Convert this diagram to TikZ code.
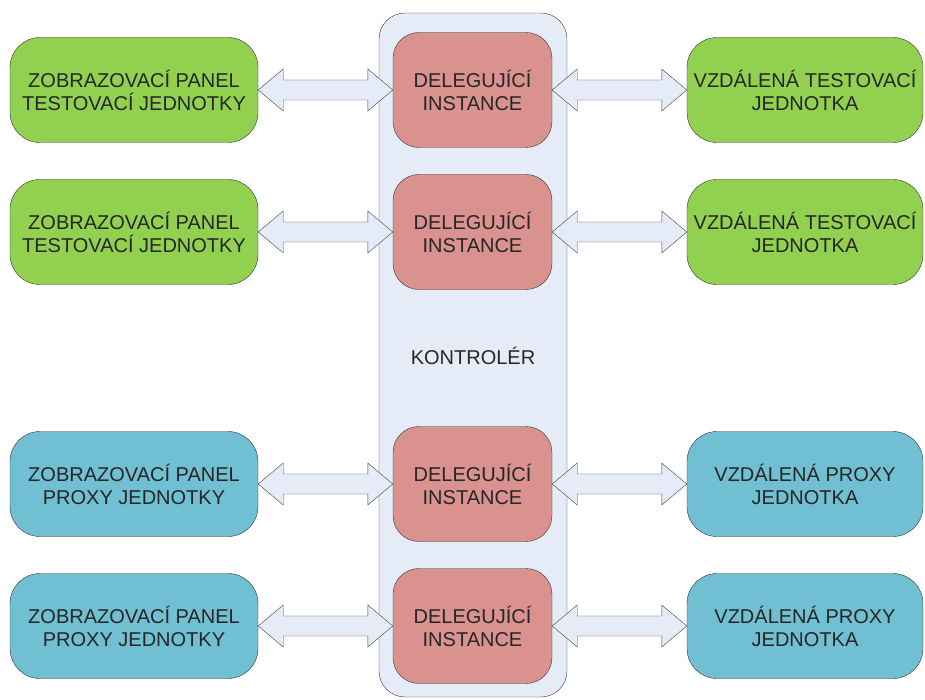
\documentclass[tikz,border=0pt]{standalone}
\usepackage{fontspec}
\setmainfont{Liberation Sans}
\usetikzlibrary{calc}
\definecolor{panelgreen}{HTML}{92D050}
\definecolor{panelblue}{HTML}{70BFD2}
\definecolor{delegred}{HTML}{D9928E}
\definecolor{ctrlfill}{HTML}{E6ECF7}
\definecolor{textgray}{HTML}{262626}
\tikzset{
  unitbox/.style={draw=black!80,rounded corners=30pt,minimum width=248pt,minimum height=105pt,
    align=center,text=textgray,font=\fontsize{20}{23}\selectfont},
  delegbox/.style={draw=black!80,fill=delegred,rounded corners=26pt,minimum width=159pt,minimum height=115pt,
    align=center,text=textgray,font=\fontsize{20}{23}\selectfont},
  pipe/.style={draw=black!75,fill=ctrlfill,line join=miter}
}
% double arrow between two nodes
\newcommand{\pipe}[2]{%
  \draw[pipe] (#1.east) -- ++(25,-21) -- ++(0,11) -- ($(#2.west)+(-25,-10)$) -- ++(0,-11)
    -- (#2.west) -- ++(-25,21) -- ++(0,-11) -- ($(#1.east)+(25,10)$) -- ++(0,11) -- cycle;}
\begin{document}
\begin{tikzpicture}[x=1pt,y=-1pt]
\useasboundingbox (0,0) rectangle (925,700);
\draw[draw=black!80,fill=ctrlfill,rounded corners=26pt] (379,13) rectangle (567,697);
\node[text=textgray,font=\fontsize{20}{23}\selectfont] (ctrl) at (473,356) {KONTROLÉR};
% testovaci jednotky
\node[unitbox,fill=panelgreen] (pan1) at (134,90) {ZOBRAZOVACÍ PANEL\\TESTOVACÍ JEDNOTKY};
\node[unitbox,fill=panelgreen] (pan2) at (134,232) {ZOBRAZOVACÍ PANEL\\TESTOVACÍ JEDNOTKY};
\node[unitbox,fill=panelblue] (pan3) at (134,484) {ZOBRAZOVACÍ PANEL\\PROXY JEDNOTKY};
\node[unitbox,fill=panelblue] (pan4) at (134,626) {ZOBRAZOVACÍ PANEL\\PROXY JEDNOTKY};
\node[delegbox] (del1) at (472.5,90) {DELEGUJÍCÍ\\INSTANCE};
\node[delegbox] (del2) at (472.5,232) {DELEGUJÍCÍ\\INSTANCE};
\node[delegbox] (del3) at (472.5,484) {DELEGUJÍCÍ\\INSTANCE};
\node[delegbox] (del4) at (472.5,626) {DELEGUJÍCÍ\\INSTANCE};
\node[unitbox,minimum width=236pt,fill=panelgreen] (rem1) at (805,90) {VZDÁLENÁ TESTOVACÍ\\JEDNOTKA};
\node[unitbox,minimum width=236pt,fill=panelgreen] (rem2) at (805,232) {VZDÁLENÁ TESTOVACÍ\\JEDNOTKA};
\node[unitbox,minimum width=236pt,fill=panelblue] (rem3) at (805,484) {VZDÁLENÁ PROXY\\JEDNOTKA};
\node[unitbox,minimum width=236pt,fill=panelblue] (rem4) at (805,626) {VZDÁLENÁ PROXY\\JEDNOTKA};
\foreach \i in {1,...,4}{
  \pipe{pan\i}{del\i}
  \pipe{del\i}{rem\i}
}
\end{tikzpicture}
\end{document}
